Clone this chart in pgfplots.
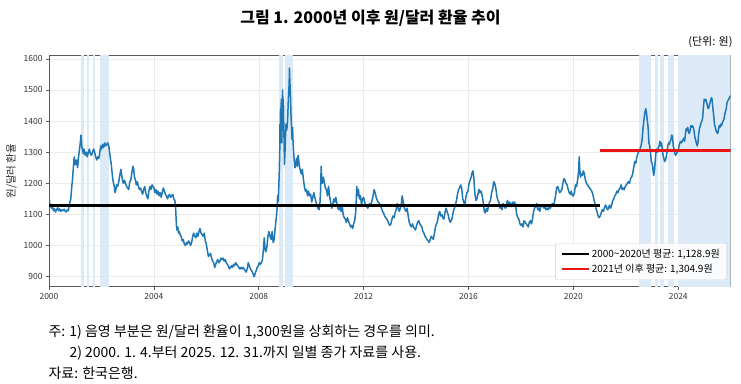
\documentclass[border=0pt]{standalone}
\usepackage{fontspec}
\setmainfont{Noto Sans CJK KR}
\usepackage{pgfplots}
\usepackage{pgfplotstable}
\pgfplotsset{compat=1.18}
\definecolor{fxblue}{RGB}{31,119,180}
\definecolor{shade}{RGB}{220,234,247}
\definecolor{axgray}{RGB}{90,90,90}
\definecolor{mred}{RGB}{235,20,20}
\pgfplotstableread{
x y
2000.00 1130
2000.02 1145
2000.04 1125
2000.07 1132
2000.10 1120
2000.13 1126
2000.17 1112
2000.21 1118
2000.25 1108
2000.29 1115
2000.33 1122
2000.37 1112
2000.41 1118
2000.45 1110
2000.50 1115
2000.54 1112
2000.58 1117
2000.62 1110
2000.66 1108
2000.70 1115
2000.74 1112
2000.77 1130
2000.80 1140
2000.83 1150
2000.85 1170
2000.88 1200
2000.90 1215
2000.92 1240
2000.94 1260
2000.96 1285
2000.98 1260
2001.00 1275
2001.03 1260
2001.06 1275
2001.09 1250
2001.12 1280
2001.15 1300
2001.18 1320
2001.21 1345
2001.22 1355
2001.25 1320
2001.28 1305
2001.31 1295
2001.34 1310
2001.38 1290
2001.42 1300
2001.46 1285
2001.50 1300
2001.54 1310
2001.58 1295
2001.62 1290
2001.66 1300
2001.70 1310
2001.74 1300
2001.78 1285
2001.82 1275
2001.86 1285
2001.90 1280
2001.94 1300
2001.97 1320
2002.00 1310
2002.04 1325
2002.08 1315
2002.12 1330
2002.16 1320
2002.20 1325
2002.24 1330
2002.28 1320
2002.31 1300
2002.34 1280
2002.37 1265
2002.40 1240
2002.43 1215
2002.46 1200
2002.49 1190
2002.52 1170
2002.55 1180
2002.58 1195
2002.62 1190
2002.66 1205
2002.70 1225
2002.74 1245
2002.77 1230
2002.80 1210
2002.84 1200
2002.88 1210
2002.92 1200
2002.96 1190
2003.00 1185
2003.04 1180
2003.08 1205
2003.12 1210
2003.16 1235
2003.20 1255
2003.23 1245
2003.26 1220
2003.30 1210
2003.33 1195
2003.37 1205
2003.41 1190
2003.45 1180
2003.49 1185
2003.53 1175
2003.57 1165
2003.61 1180
2003.65 1190
2003.69 1170
2003.73 1160
2003.77 1150
2003.81 1175
2003.85 1190
2003.89 1180
2003.93 1195
2003.97 1190
2004.00 1185
2004.04 1170
2004.08 1180
2004.12 1165
2004.16 1175
2004.20 1160
2004.24 1170
2004.28 1155
2004.32 1170
2004.36 1185
2004.40 1175
2004.44 1165
2004.48 1160
2004.52 1150
2004.56 1160
2004.60 1165
2004.64 1155
2004.68 1160
2004.72 1165
2004.76 1150
2004.80 1145
2004.83 1120
2004.86 1065
2004.88 1050
2004.91 1060
2004.94 1040
2004.97 1045
2005.00 1035
2005.04 1030
2005.08 1015
2005.12 1020
2005.16 1005
2005.20 1000
2005.24 1010
2005.28 1005
2005.32 1015
2005.36 1010
2005.40 1000
2005.44 1010
2005.48 1030
2005.52 1040
2005.56 1030
2005.60 1025
2005.64 1040
2005.68 1030
2005.72 1045
2005.76 1055
2005.80 1040
2005.84 1035
2005.88 1030
2005.92 1040
2005.96 1015
2006.00 1005
2006.04 985
2006.08 965
2006.12 970
2006.16 975
2006.20 960
2006.24 950
2006.28 945
2006.32 930
2006.36 940
2006.40 950
2006.44 955
2006.48 945
2006.52 950
2006.56 960
2006.60 955
2006.64 960
2006.68 950
2006.72 955
2006.76 945
2006.80 940
2006.84 935
2006.88 925
2006.92 930
2006.96 935
2007.00 930
2007.04 940
2007.08 935
2007.12 945
2007.16 940
2007.20 935
2007.24 930
2007.28 925
2007.32 930
2007.36 925
2007.40 930
2007.44 925
2007.48 920
2007.52 915
2007.56 925
2007.60 945
2007.64 935
2007.68 925
2007.72 920
2007.76 915
2007.80 905
2007.83 900
2007.86 910
2007.90 920
2007.94 930
2007.98 935
2008.02 945
2008.06 940
2008.10 945
2008.14 955
2008.18 990
2008.21 1025
2008.24 990
2008.27 980
2008.31 995
2008.35 1030
2008.39 1045
2008.43 1030
2008.47 1020
2008.51 1045
2008.55 1010
2008.59 1020
2008.63 1060
2008.67 1090
2008.70 1120
2008.72 1160
2008.74 1140
2008.76 1180
2008.78 1230
2008.80 1300
2008.81 1390
2008.82 1330
2008.83 1440
2008.84 1370
2008.86 1470
2008.87 1400
2008.88 1330
2008.89 1390
2008.90 1460
2008.91 1500
2008.92 1460
2008.93 1400
2008.94 1470
2008.96 1360
2008.98 1260
2009.00 1300
2009.02 1350
2009.04 1390
2009.06 1370
2009.08 1380
2009.10 1400
2009.12 1450
2009.14 1490
2009.16 1520
2009.17 1570
2009.19 1520
2009.21 1480
2009.23 1420
2009.25 1380
2009.27 1340
2009.29 1380
2009.31 1330
2009.33 1300
2009.35 1275
2009.38 1250
2009.41 1260
2009.44 1280
2009.47 1255
2009.50 1290
2009.53 1270
2009.56 1250
2009.59 1240
2009.62 1230
2009.66 1245
2009.70 1215
2009.74 1190
2009.78 1175
2009.82 1180
2009.86 1160
2009.90 1175
2009.94 1160
2009.98 1165
2010.02 1140
2010.06 1155
2010.10 1170
2010.14 1155
2010.18 1140
2010.22 1130
2010.26 1120
2010.30 1115
2010.33 1130
2010.36 1180
2010.38 1255
2010.40 1220
2010.43 1200
2010.46 1220
2010.50 1205
2010.54 1185
2010.58 1180
2010.62 1160
2010.66 1190
2010.70 1160
2010.74 1140
2010.78 1120
2010.82 1130
2010.86 1150
2010.90 1140
2010.94 1155
2010.98 1135
2011.02 1120
2011.06 1115
2011.10 1125
2011.14 1110
2011.18 1130
2011.22 1100
2011.26 1090
2011.30 1085
2011.34 1075
2011.38 1090
2011.42 1080
2011.46 1070
2011.50 1060
2011.54 1065
2011.58 1055
2011.62 1070
2011.66 1080
2011.70 1110
2011.72 1150
2011.74 1190
2011.77 1160
2011.80 1180
2011.84 1150
2011.88 1160
2011.92 1130
2011.96 1150
2012.00 1155
2012.04 1140
2012.08 1130
2012.12 1125
2012.16 1120
2012.20 1130
2012.24 1135
2012.28 1130
2012.32 1145
2012.36 1160
2012.40 1180
2012.44 1170
2012.48 1155
2012.52 1145
2012.56 1140
2012.60 1135
2012.64 1130
2012.68 1120
2012.72 1110
2012.76 1105
2012.80 1095
2012.84 1090
2012.88 1085
2012.92 1080
2012.96 1070
2013.00 1065
2013.04 1070
2013.08 1085
2013.12 1095
2013.16 1090
2013.20 1105
2013.24 1115
2013.28 1135
2013.32 1120
2013.36 1110
2013.40 1120
2013.44 1135
2013.47 1160
2013.50 1145
2013.54 1125
2013.58 1115
2013.62 1110
2013.66 1120
2013.70 1095
2013.74 1075
2013.78 1065
2013.82 1060
2013.86 1070
2013.90 1060
2013.94 1055
2013.98 1050
2014.02 1065
2014.06 1075
2014.10 1080
2014.14 1070
2014.18 1065
2014.22 1060
2014.26 1045
2014.30 1040
2014.34 1030
2014.38 1025
2014.42 1020
2014.46 1015
2014.50 1010
2014.54 1020
2014.58 1030
2014.62 1025
2014.66 1020
2014.70 1040
2014.74 1060
2014.78 1070
2014.82 1080
2014.86 1100
2014.90 1110
2014.94 1095
2014.98 1100
2015.02 1090
2015.06 1085
2015.10 1105
2015.14 1120
2015.18 1110
2015.22 1100
2015.26 1085
2015.30 1075
2015.34 1080
2015.38 1090
2015.42 1110
2015.46 1120
2015.50 1130
2015.54 1145
2015.58 1165
2015.62 1180
2015.66 1185
2015.70 1195
2015.74 1185
2015.78 1150
2015.82 1140
2015.86 1130
2015.90 1155
2015.94 1170
2015.98 1175
2016.02 1200
2016.06 1210
2016.10 1220
2016.14 1235
2016.17 1240
2016.20 1220
2016.24 1170
2016.28 1145
2016.32 1150
2016.36 1165
2016.40 1180
2016.44 1170
2016.48 1175
2016.52 1160
2016.56 1140
2016.60 1110
2016.64 1105
2016.68 1120
2016.72 1110
2016.76 1125
2016.80 1140
2016.84 1145
2016.88 1170
2016.92 1180
2016.96 1205
2017.00 1200
2017.04 1185
2017.08 1160
2017.12 1145
2017.16 1140
2017.20 1120
2017.24 1130
2017.28 1115
2017.32 1135
2017.36 1130
2017.40 1120
2017.44 1125
2017.48 1145
2017.52 1135
2017.56 1140
2017.60 1135
2017.64 1125
2017.68 1140
2017.72 1135
2017.76 1140
2017.80 1125
2017.84 1100
2017.88 1090
2017.92 1085
2017.96 1070
2018.00 1065
2018.04 1070
2018.08 1060
2018.12 1080
2018.16 1075
2018.20 1070
2018.24 1065
2018.28 1060
2018.32 1075
2018.36 1080
2018.40 1070
2018.44 1085
2018.48 1110
2018.52 1120
2018.56 1125
2018.60 1135
2018.64 1115
2018.68 1120
2018.72 1110
2018.76 1130
2018.80 1125
2018.84 1130
2018.88 1120
2018.92 1125
2018.96 1115
2019.00 1120
2019.04 1115
2019.08 1125
2019.12 1120
2019.16 1130
2019.20 1135
2019.24 1130
2019.28 1140
2019.32 1160
2019.36 1185
2019.40 1190
2019.44 1180
2019.48 1170
2019.52 1175
2019.56 1180
2019.60 1200
2019.64 1215
2019.68 1210
2019.72 1200
2019.76 1195
2019.80 1180
2019.84 1170
2019.88 1165
2019.92 1175
2019.96 1160
2020.00 1160
2020.04 1170
2020.08 1195
2020.12 1190
2020.16 1210
2020.20 1240
2020.22 1285
2020.24 1250
2020.27 1220
2020.30 1230
2020.34 1225
2020.38 1240
2020.42 1230
2020.46 1210
2020.50 1200
2020.54 1195
2020.58 1190
2020.62 1185
2020.66 1180
2020.70 1175
2020.74 1165
2020.78 1150
2020.82 1135
2020.86 1120
2020.90 1110
2020.94 1095
2020.98 1090
2021.02 1095
2021.06 1105
2021.10 1115
2021.14 1110
2021.18 1120
2021.22 1130
2021.26 1125
2021.30 1115
2021.34 1120
2021.38 1130
2021.42 1120
2021.46 1130
2021.50 1145
2021.54 1150
2021.58 1160
2021.62 1165
2021.66 1175
2021.70 1170
2021.74 1180
2021.78 1185
2021.82 1195
2021.86 1180
2021.90 1185
2021.94 1180
2021.98 1190
2022.02 1195
2022.06 1200
2022.10 1205
2022.14 1200
2022.18 1215
2022.22 1220
2022.26 1230
2022.30 1250
2022.34 1270
2022.38 1265
2022.42 1285
2022.46 1295
2022.50 1305
2022.54 1310
2022.58 1320
2022.62 1340
2022.66 1380
2022.70 1410
2022.73 1430
2022.76 1440
2022.79 1425
2022.82 1400
2022.85 1380
2022.88 1330
2022.91 1320
2022.94 1300
2022.97 1270
2023.00 1265
2023.03 1250
2023.06 1225
2023.09 1240
2023.12 1270
2023.15 1300
2023.18 1310
2023.21 1300
2023.24 1315
2023.27 1320
2023.30 1335
2023.33 1320
2023.36 1330
2023.39 1310
2023.42 1290
2023.45 1280
2023.48 1270
2023.51 1275
2023.54 1285
2023.57 1300
2023.60 1320
2023.63 1330
2023.66 1325
2023.69 1335
2023.72 1340
2023.75 1355
2023.78 1350
2023.81 1320
2023.84 1310
2023.87 1295
2023.90 1290
2023.93 1295
2023.96 1300
2024.00 1305
2024.03 1320
2024.06 1330
2024.09 1335
2024.12 1330
2024.15 1335
2024.18 1340
2024.21 1345
2024.24 1335
2024.27 1355
2024.30 1375
2024.33 1370
2024.36 1380
2024.39 1365
2024.42 1360
2024.45 1370
2024.48 1385
2024.51 1380
2024.54 1385
2024.57 1380
2024.60 1370
2024.63 1350
2024.66 1340
2024.69 1330
2024.72 1320
2024.75 1330
2024.78 1360
2024.81 1375
2024.84 1385
2024.87 1395
2024.90 1400
2024.93 1410
2024.96 1445
2024.99 1470
2025.02 1465
2025.05 1470
2025.08 1460
2025.11 1450
2025.14 1440
2025.17 1445
2025.20 1455
2025.23 1465
2025.26 1475
2025.29 1470
2025.32 1440
2025.35 1420
2025.38 1390
2025.41 1380
2025.44 1370
2025.47 1365
2025.50 1360
2025.53 1370
2025.56 1385
2025.59 1380
2025.62 1390
2025.65 1385
2025.68 1395
2025.71 1400
2025.74 1405
2025.77 1420
2025.80 1430
2025.83 1440
2025.86 1460
2025.89 1465
2025.92 1470
2025.95 1475
2025.98 1480
2026.00 1478
}\fxdata
\begin{document}
\begin{tikzpicture}[x=1pt,y=1pt]
\path[use as bounding box] (0,0) rectangle (741,383);
\node[font=\fontsize{16}{18}\selectfont\bfseries] at (370.5,365) {그림 1. 2000년 이후 원/달러 환율 추이};
\node[anchor=east,font=\fontsize{11}{13}\selectfont] at (736,341) {(단위: 원)};
\begin{axis}[
  at={(49pt,96.3pt)}, anchor=south west,
  width=681.7pt, height=231pt, scale only axis,
  xmin=2000, xmax=2026, ymin=868, ymax=1610,
  xtick={2000,2004,...,2024},
  ytick={900,1000,...,1600},
  /pgf/number format/1000 sep={},
  /pgf/number format/assume math mode=true,
  tick label style={font=\fontsize{8.5}{10}\selectfont, text=black!80},
  xtick pos=bottom, ytick pos=left,
  tick align=outside, major tick length=3pt,
  tick style={axgray, line width=0.6pt},
  axis line style={axgray, line width=0.7pt},
  grid=major, major grid style={black!8, line width=0.5pt},
  ylabel={원/달러 환율},
  ylabel style={font=\fontsize{10.5}{12}\selectfont, text=black!85},
  legend style={at={(0.9946,0.029)}, anchor=south east, draw=black!20, rounded corners=2pt,
    fill=white, fill opacity=0.85, text opacity=1, font=\fontsize{10}{12}\selectfont,
    inner xsep=5pt, inner ysep=4pt, row sep=1pt},
  legend cell align=left,
  legend image code/.code={\draw[#1] (0pt,0pt) -- (27pt,0pt);},
]
\addplot[fill=shade, draw=none, forget plot] coordinates {(2001.21,850) (2001.21,1650) (2001.33,1650) (2001.33,850)} -- cycle;
\addplot[fill=shade, draw=none, forget plot] coordinates {(2001.46,850) (2001.46,1650) (2001.54,1650) (2001.54,850)} -- cycle;
\addplot[fill=shade, draw=none, forget plot] coordinates {(2001.69,850) (2001.69,1650) (2001.75,1650) (2001.75,850)} -- cycle;
\addplot[fill=shade, draw=none, forget plot] coordinates {(2001.93,850) (2001.93,1650) (2002.30,1650) (2002.30,850)} -- cycle;
\addplot[fill=shade, draw=none, forget plot] coordinates {(2008.77,850) (2008.77,1650) (2008.91,1650) (2008.91,850)} -- cycle;
\addplot[fill=shade, draw=none, forget plot] coordinates {(2009.00,850) (2009.00,1650) (2009.32,1650) (2009.32,850)} -- cycle;
\addplot[fill=shade, draw=none, forget plot] coordinates {(2022.50,850) (2022.50,1650) (2022.96,1650) (2022.96,850)} -- cycle;
\addplot[fill=shade, draw=none, forget plot] coordinates {(2023.13,850) (2023.13,1650) (2023.23,1650) (2023.23,850)} -- cycle;
\addplot[fill=shade, draw=none, forget plot] coordinates {(2023.30,850) (2023.30,1650) (2023.44,1650) (2023.44,850)} -- cycle;
\addplot[fill=shade, draw=none, forget plot] coordinates {(2023.59,850) (2023.59,1650) (2023.84,1650) (2023.84,850)} -- cycle;
\addplot[fill=shade, draw=none, forget plot] coordinates {(2023.99,850) (2023.99,1650) (2026.00,1650) (2026.00,850)} -- cycle;
\addplot[fxblue, line width=1.5pt, line join=round, forget plot] table[x=x,y=y] {\fxdata};
\addplot[black, line width=2.4pt] coordinates {(2000,1128.9) (2021,1128.9)};
\addlegendentry{2000\textasciitilde 2020년 평균: 1,128.9원}
\addplot[mred, line width=2.4pt] coordinates {(2021,1304.9) (2026,1304.9)};
\addlegendentry{2021년 이후 평균: 1,304.9원}
\end{axis}
\node[anchor=west,font=\fontsize{14}{16}\selectfont] at (45,51) {주: 1) 음영 부분은 원/달러 환율이 1,300원을 상회하는 경우를 의미.};
\node[anchor=west,font=\fontsize{14}{16}\selectfont] at (66,30) {2) 2000. 1. 4.부터 2025. 12. 31.까지 일별 종가 자료를 사용.};
\node[anchor=west,font=\fontsize{14}{16}\selectfont] at (45,10) {자료: 한국은행.};
\end{tikzpicture}
\end{document}
